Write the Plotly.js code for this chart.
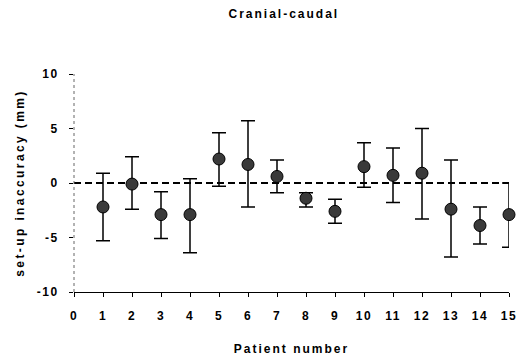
<!DOCTYPE html>
<html>
<head>
<meta charset="utf-8">
<script src="https://cdn.plot.ly/plotly-3.0.1.min.js"></script>
<style>
  html, body { margin: 0; padding: 0; background: #fff; }
  #chart { width: 518px; height: 362px; }
  #chart .gtitle, #chart .xtitle { letter-spacing: 2px; }
  #chart .ytitle { letter-spacing: 2.4px; }
  #chart .xtick text, #chart .ytick text { letter-spacing: 1.5px; }
</style>
</head>
<body>
<div id="chart"></div>
<script>
// Per-patient mean set-up inaccuracy (mm) with upper/lower error extents
const patients = [1, 2, 3, 4, 5, 6, 7, 8, 9, 10, 11, 12, 13, 14, 15];
const meanError = [-2.2, -0.1, -2.9, -2.9, 2.2, 1.7, 0.6, -1.4, -2.6, 1.5, 0.7, 0.9, -2.4, -3.9, -2.9];
const upperBound = [0.9, 2.4, -0.8, 0.4, 4.6, 5.7, 2.1, -0.9, -1.5, 3.7, 3.2, 5.0, 2.1, -2.2, 0.0];
const lowerBound = [-5.3, -2.4, -5.1, -6.4, -0.3, -2.2, -0.9, -2.2, -3.7, -0.4, -1.8, -3.3, -6.8, -5.6, -5.9];
const xTicks = [0, 1, 2, 3, 4, 5, 6, 7, 8, 9, 10, 11, 12, 13, 14, 15];
const yTicks = [-10, -5, 0, 5, 10];

const errPlus = upperBound.map((u, i) => +(u - meanError[i]).toFixed(2));
const errMinus = lowerBound.map((l, i) => +(meanError[i] - l).toFixed(2));

const font = "'Liberation Sans', Arial, sans-serif";

const trace = {
  x: patients,
  y: meanError,
  type: 'scatter',
  mode: 'markers',
  cliponaxis: false,
  marker: { size: 12, color: '#3a3a3a', line: { color: '#000', width: 1 } },
  error_y: {
    type: 'data',
    symmetric: false,
    array: errPlus,
    arrayminus: errMinus,
    color: '#000',
    thickness: 1.5,
    width: 7
  },
  hoverinfo: 'x+y'
};

const layout = {
  width: 518,
  height: 362,
  margin: { l: 74, r: 9, t: 74, b: 70 },
  paper_bgcolor: '#fff',
  plot_bgcolor: '#fff',
  showlegend: false,
  title: {
    text: '<b>Cranial-caudal</b>',
    font: { family: font, size: 12, color: '#000' },
    x: 0.548, xanchor: 'center',
    y: 0.963, yanchor: 'middle'
  },
  xaxis: {
    range: [0, 15],
    tickvals: xTicks,
    ticktext: xTicks.map(v => '<b>' + v + '</b>'),
    tickfont: { family: font, size: 12, color: '#000' },
    ticks: 'outside',
    ticklen: 4,
    tickcolor: '#000',
    ticklabelstandoff: 9,
    showline: true,
    linecolor: '#000',
    linewidth: 1,
    showgrid: false,
    zeroline: false,
    title: {
      text: '<b>Patient number</b>',
      font: { family: font, size: 12, color: '#000' },
      standoff: 22
    }
  },
  yaxis: {
    range: [-10, 10],
    tickvals: yTicks,
    ticktext: yTicks.map(v => '<b>' + v + '</b>'),
    tickfont: { family: font, size: 12, color: '#000' },
    ticks: 'outside',
    ticklen: 4,
    tickcolor: '#000',
    ticklabelstandoff: 8,
    showline: false,
    showgrid: false,
    zeroline: false,
    title: {
      text: '<b>set-up inaccuracy (mm)</b>',
      font: { family: font, size: 12, color: '#000' },
      standoff: 14
    }
  },
  shapes: [
    // dotted left axis line
    { type: 'line', xref: 'paper', yref: 'paper', x0: 0, x1: 0, y0: 0, y1: 1,
      line: { color: '#666', width: 1, dash: 'dot' } },
    // dashed reference line at zero
    { type: 'line', xref: 'x', yref: 'y', x0: 0, x1: 15, y0: 0, y1: 0,
      line: { color: '#000', width: 1.8, dash: '7px,4px' }, layer: 'below' }
  ]
};

Plotly.newPlot('chart', [trace], layout, { staticPlot: true, displayModeBar: false });
</script>
</body>
</html>
